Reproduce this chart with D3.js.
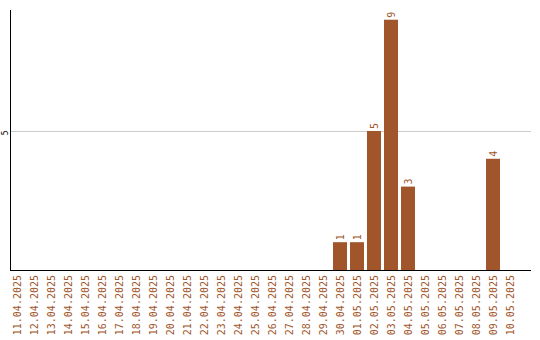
<!DOCTYPE html>
<html><head><meta charset="utf-8">
<script src="https://cdn.jsdelivr.net/npm/d3@7"></script>
<style>body{margin:0;background:#fff}svg{display:block}</style>
</head><body>
<svg id="c" width="540" height="340"></svg>
<script>
const categories = ["11.04.2025","12.04.2025","13.04.2025","14.04.2025","15.04.2025","16.04.2025","17.04.2025","18.04.2025","19.04.2025","20.04.2025","21.04.2025","22.04.2025","23.04.2025","24.04.2025","25.04.2025","26.04.2025","27.04.2025","28.04.2025","29.04.2025","30.04.2025","01.05.2025","02.05.2025","03.05.2025","04.05.2025","05.05.2025","06.05.2025","07.05.2025","08.05.2025","09.05.2025","10.05.2025"];
const values = [0,0,0,0,0,0,0,0,0,0,0,0,0,0,0,0,0,0,0,1,1,5,9,3,0,0,0,0,4,0];
const yTicks = [5];

const svg = d3.select("#c");
const color = "#a0552a";
const font = "'DejaVu Sans Mono', monospace";
const x = d3.scaleBand().domain(categories).range([8.5, 518.5]).paddingInner(3/17).paddingOuter(3/34);
const y = d3.scaleLinear().domain([0, 9.35]).range([270, 10]);

// gridlines
svg.append("g").selectAll("line").data(yTicks).join("line")
  .attr("x1", 11).attr("x2", 531)
  .attr("y1", d => Math.round(y(d)) + 0.5).attr("y2", d => Math.round(y(d)) + 0.5)
  .attr("stroke", "#cccccc").attr("stroke-width", 1);

// y tick labels
svg.append("g").selectAll("text").data(yTicks).join("text")
  .attr("transform", d => `translate(5,${y(d) + 2}) rotate(-90)`)
  .attr("text-anchor", "middle").attr("dy", "0.35em")
  .attr("font-family", font).attr("font-size", 8).attr("fill", "#000")
  .text(d => d);

// bars
svg.append("g").selectAll("rect").data(values.map((v,i)=>({c:categories[i],v})).filter(d=>d.v>0)).join("rect")
  .attr("x", d => x(d.c)).attr("width", x.bandwidth())
  .attr("y", d => y(d.v)).attr("height", d => y(0) - y(d.v))
  .attr("fill", "#a0562a");

// value labels
svg.append("g").selectAll("text").data(values.map((v,i)=>({c:categories[i],v})).filter(d=>d.v>0)).join("text")
  .attr("transform", d => `translate(${x(d.c) + x.bandwidth()/2},${y(d.v) - 2}) rotate(-90)`)
  .attr("text-anchor", "start").attr("dy", "0.35em")
  .attr("font-family", font).attr("font-size", 10).attr("fill", color)
  .text(d => d.v);

// axes lines
svg.append("line").attr("x1", 10.5).attr("x2", 10.5).attr("y1", 10).attr("y2", 271)
  .attr("stroke", "#000").attr("stroke-width", 1);
svg.append("line").attr("x1", 10).attr("x2", 531).attr("y1", 270.5).attr("y2", 270.5)
  .attr("stroke", "#000").attr("stroke-width", 1);

// x labels
svg.append("g").selectAll("text").data(categories).join("text")
  .attr("transform", d => `translate(${x(d) + x.bandwidth()/2},275) rotate(-90)`)
  .attr("text-anchor", "end").attr("dy", "0.35em")
  .attr("font-family", font).attr("font-size", 10).attr("fill", color)
  .text(d => d);
</script>
</body></html>
